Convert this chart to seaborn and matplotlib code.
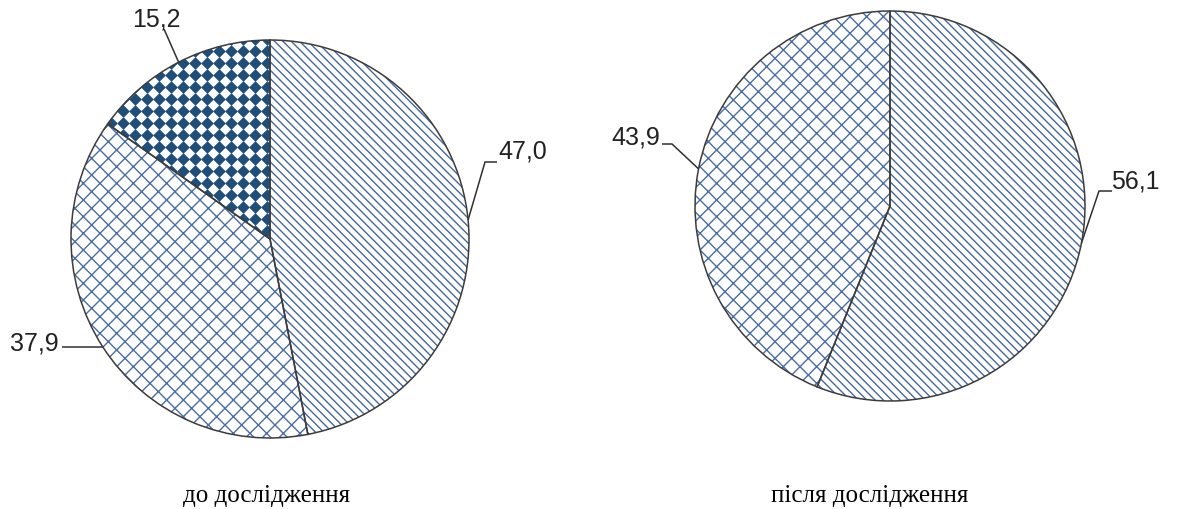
import numpy as np
import matplotlib
matplotlib.use("Agg")
import matplotlib.pyplot as plt
import seaborn as sns

sns.set_theme(style="white")
plt.rcParams['font.family'] = ['Liberation Sans', 'DejaVu Sans']

# data
values_before = [47.0, 37.9, 15.2]
values_after = [56.1, 43.9]
captions = ["до дослідження", "після дослідження"]

# look
stripe_col = "#45699d"
cross_col = "#4a6da3"
diamond_col = "#1f4e79"
outline_col = "#3c3c3c"

fig = plt.figure(figsize=(11.77, 5.10), dpi=100)
ax = fig.add_axes([0, 0, 1, 1])


def draw_pie(values, center, radius, hatches, hcols):
    wedges, _ = ax.pie(values, startangle=90, counterclock=False, center=center,
                       radius=radius, frame=True,
                       wedgeprops=dict(linewidth=0))
    for w, h, hc in zip(wedges, hatches, hcols):
        w.set_facecolor('white')
        w.set_edgecolor(hc)
        w.set_hatch(h)
        w.set_linewidth(0)
    # outline on top
    ax.pie(values, startangle=90, counterclock=False, center=center,
           radius=radius, frame=True,
           wedgeprops=dict(facecolor='none', edgecolor=outline_col, linewidth=1.1,
                           zorder=5))
    return wedges


left_c, left_r = (270, 270), 199
right_c, right_r = (890, 303), 195

w_before = draw_pie(values_before, left_c, left_r,
                    ['\\\\\\\\', 'xx', ''],
                    [stripe_col, cross_col, 'white'])
w_after = draw_pie(values_after, right_c, right_r,
                   ['\\\\\\\\', 'xx'],
                   [stripe_col, cross_col])

# diamond texture for the small slice, clipped to its wedge
step = 12
gx, gy = np.meshgrid(np.arange(left_c[0] - left_r, left_c[0] + left_r, step) + 4,
                     np.arange(left_c[1] - left_r, left_c[1] + left_r, step) + 3)
dots = ax.scatter(gx.ravel(), gy.ravel(), marker='D', s=42, color=diamond_col,
                  linewidths=0, zorder=3)
dots.set_clip_path(w_before[2])

ax.set_xlim(0, 1177)
ax.set_ylim(0, 510)
ax.set_aspect('equal')
ax.axis('off')


def anchor(w, center, radius):
    a = np.deg2rad((w.theta1 + w.theta2) / 2)
    return center[0] + radius * np.cos(a), center[1] + radius * np.sin(a)


def fmt(v):
    return f"{v:.1f}".replace('.', ',')


# label layout: (text x, text y, ha, va, line start x, line start y, elbow x)
lay_before = [(498, 346, 'left', 'bottom', 497, 347, 485),
              (59, 166, 'right', 'center', 62, None, None),
              (156, 491, 'center', 'center', 164, 480, None)]
lay_after = [(1111, 317, 'left', 'bottom', 1112, 318, 1099),
             (660, 372, 'right', 'center', 662, 365, 672)]

for wedges, vals, lay, c, r in [(w_before, values_before, lay_before, left_c, left_r),
                                (w_after, values_after, lay_after, right_c, right_r)]:
    for w, v, (tx, ty, ha, va, sx, sy, ex) in zip(wedges, vals, lay):
        axp, ayp = anchor(w, c, r)
        if sy is None:
            xs, ys = [sx, axp], [ayp, ayp]
        elif ex is None:
            xs, ys = [sx, axp], [sy, ayp]
        else:
            xs, ys = [sx, ex, axp], [sy, sy, ayp]
        ax.plot(xs, ys, color='#303030', lw=1.1, solid_capstyle='butt', clip_on=False)
        ax.text(tx, ty, fmt(v), ha=ha, va=va, fontsize=18, color='#222222')

for cx, txt in zip([267, 870], captions):
    ax.text(cx, 14, txt, ha='center', va='center', fontsize=18,
            family=['Liberation Serif', 'DejaVu Serif'], color='black')

fig.savefig("out.png", dpi=100)
